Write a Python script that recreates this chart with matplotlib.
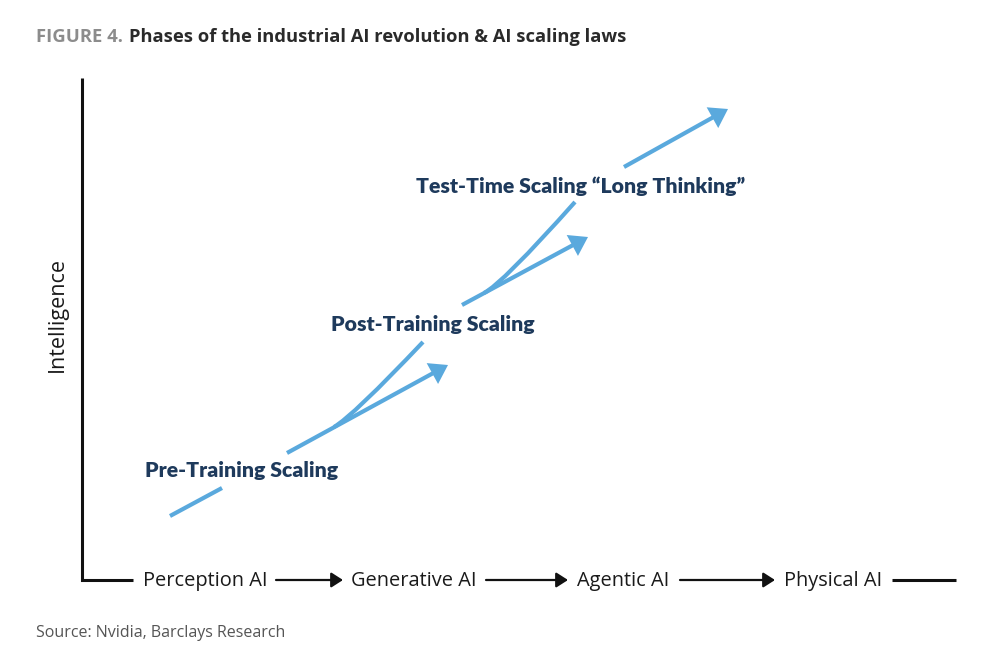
import matplotlib.pyplot as plt
from matplotlib.patches import FancyArrowPatch, PathPatch
from matplotlib.path import Path

# diagram coordinates (pixel-like units, y grows downward)
stages = ['Perception AI', 'Generative AI', 'Agentic AI', 'Physical AI']
stage_left = [143, 351, 577, 784]
connector_start = [276, 486, 680]
connector_end = [343, 568, 775]
tail_line = [892, 956]
axis_corner = (82, 580)
axis_top = 78
axis_lead = 133

# scaling curve pieces: plain line, arrows, curved branches
plain_seg = [(170, 516), (222, 488)]
arrow_segs = [
    [(287, 453), (448, 365)],
    [(462, 305), (588, 237)],
    [(624, 167), (728, 109)],
]
branch_curves = [
    [(334, 427), (353, 416), (423, 342)],
    [(484, 293), (502, 284), (575, 202)],
]

phase_labels = ['Pre-Training Scaling', 'Post-Training Scaling',
                'Test-Time Scaling \u201cLong Thinking\u201d']
phase_xy = [(145, 471), (331, 325), (416, 186)]

blue = '#5aa9dd'
navy = '#1e3a5c'

fig = plt.figure(figsize=(9.84, 6.52), dpi=100)
ax = fig.add_axes([0, 0, 1, 1])
ax.set_xlim(0, 984)
ax.set_ylim(652, 0)
ax.axis('off')

# title and source
fig.text(36 / 984, 1 - 37 / 652, 'FIGURE 4.', fontsize=13.3, fontweight='bold',
         family='Open Sans', color='#8c8c8c', va='center', ha='left')
fig.text(129 / 984, 1 - 37 / 652, 'Phases of the industrial AI revolution & AI scaling laws',
         fontsize=13.2, fontweight='bold', family='Open Sans', color='#2a2a2a',
         va='center', ha='left')
fig.text(36 / 984, 1 - 633 / 652, 'Source: Nvidia, Barclays Research', fontsize=11.5,
         family='Open Sans', color='#555555', va='center', ha='left')

# axes lines
cx, cy = axis_corner
ax.plot([cx, cx, axis_lead], [axis_top, cy, cy], color='#111111', lw=2.2,
        solid_joinstyle='miter', solid_capstyle='butt')
ax.plot(tail_line, [cy, cy], color='#111111', lw=2.2, solid_capstyle='butt')
ax.text(57, 314, 'Intelligence', rotation=90, fontsize=15.5, family='Open Sans',
        color='#1a1a1a', ha='center', va='center')

for name, x0 in zip(stages, stage_left):
    ax.text(x0, cy + 1, name, fontsize=14.4, family='Open Sans', color='#1a1a1a',
            ha='left', va='center')

for xs, xe in zip(connector_start, connector_end):
    ax.add_patch(FancyArrowPatch((xs, cy), (xe, cy),
                                 arrowstyle='-|>,head_length=0.7,head_width=0.45',
                                 mutation_scale=10, lw=1.6, color='#111111',
                                 shrinkA=0, shrinkB=0))

# scaling curve
ax.plot([p[0] for p in plain_seg], [p[1] for p in plain_seg], color=blue, lw=3,
        solid_capstyle='butt')
for a, b in arrow_segs:
    ax.add_patch(FancyArrowPatch(a, b, arrowstyle='-|>,head_length=0.75,head_width=0.5',
                                 mutation_scale=11.5, lw=3, color=blue,
                                 shrinkA=0, shrinkB=0, joinstyle='miter',
                                 capstyle='butt'))
for pts in branch_curves:
    path = Path(pts, [Path.MOVETO, Path.CURVE3, Path.CURVE3])
    ax.add_patch(PathPatch(path, fill=False, edgecolor=blue, lw=3, capstyle='butt'))

for label, (x, y) in zip(phase_labels, phase_xy):
    ax.text(x, y, label, fontsize=15.3, fontweight='heavy', family='Lato', color=navy,
            ha='left', va='center')

fig.savefig('out.png', dpi=100, facecolor='white')
